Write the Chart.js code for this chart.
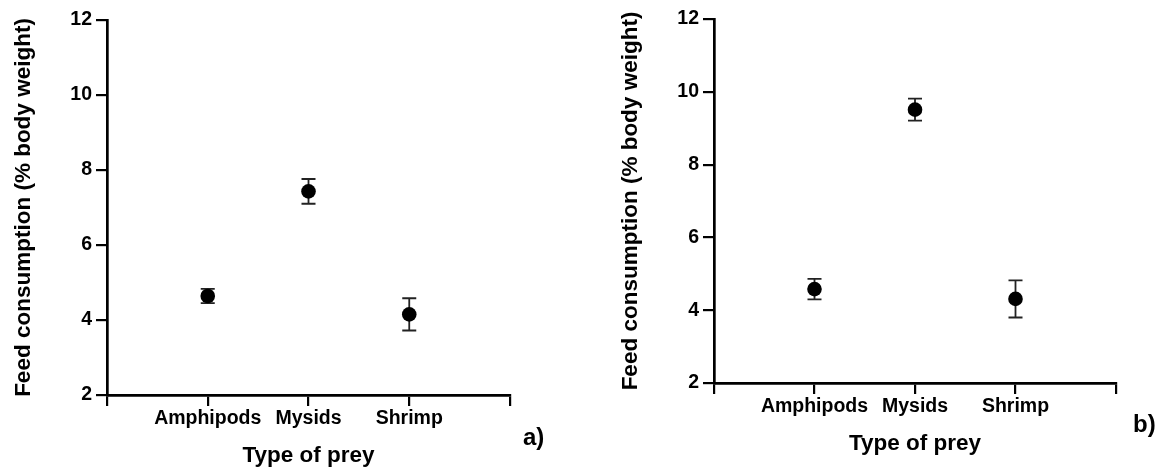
<!DOCTYPE html>
<html>
<head>
<meta charset="utf-8">
<script src="https://cdn.jsdelivr.net/npm/chart.js@4.4.0/dist/chart.umd.min.js"></script>
<style>
  body { margin: 0; background: #fff; width: 1161px; height: 470px; position: relative; overflow: hidden; font-family: "Liberation Sans", Arial, sans-serif; }
  .panel { position: absolute; top: 0; height: 470px; }
  .tag { position: absolute; font-weight: bold; font-size: 24px; line-height: 24px; color: #000; }
</style>
</head>
<body>
<div class="panel" style="left:0;width:580px"><canvas id="chartA" width="580" height="470"></canvas></div>
<div class="panel" style="left:580px;width:581px"><canvas id="chartB" width="581" height="470"></canvas></div>
<div class="tag" style="left:523px;top:425px">a)</div>
<div class="tag" style="left:1133px;top:412px">b)</div>
<script>
const preyTypes = ['Amphipods', 'Mysids', 'Shrimp'];
const yTicks = [2, 4, 6, 8, 10, 12];

// panel a
const meansA = [4.64, 7.43, 4.15];
const errA = [0.19, 0.33, 0.43];
// panel b
const meansB = [4.58, 9.51, 4.31];
const errB = [0.28, 0.30, 0.51];

Chart.defaults.font.family = '"Liberation Sans", Arial, sans-serif';
Chart.defaults.color = '#000';

// vertical bars with caps, drawn under the points
const errorBars = {
  id: 'errorBars',
  beforeDatasetsDraw(chart, args, opts) {
    const { ctx, scales: { x, y } } = chart;
    const errs = opts.errors || [];
    ctx.save();
    ctx.strokeStyle = '#222';
    ctx.lineWidth = 1.8;
    chart.data.datasets[0].data.forEach((pt, i) => {
      const px = x.getPixelForValue(pt.x);
      const top = y.getPixelForValue(pt.y + errs[i]);
      const bot = y.getPixelForValue(pt.y - errs[i]);
      ctx.beginPath();
      ctx.moveTo(px, top); ctx.lineTo(px, bot);
      ctx.moveTo(px - 7, top); ctx.lineTo(px + 7, top);
      ctx.moveTo(px - 7, bot); ctx.lineTo(px + 7, bot);
      ctx.stroke();
    });
    ctx.restore();
  }
};

function makeChart(id, means, errs, padding) {
  const ctx = document.getElementById(id).getContext('2d');
  return new Chart(ctx, {
    type: 'scatter',
    data: {
      datasets: [{
        data: means.map((m, i) => ({ x: i + 1, y: m })),
        pointRadius: 7.3,
        pointBackgroundColor: '#000',
        pointBorderColor: '#000',
        pointBorderWidth: 0
      }]
    },
    options: {
      responsive: false,
      animation: false,
      layout: { padding },
      plugins: {
        legend: { display: false },
        tooltip: { enabled: false },
        errorBars: { errors: errs }
      },
      scales: {
        x: {
          type: 'linear',
          min: 0,
          max: 4,
          afterFit: (s) => { s.height = 75; },
          border: { color: '#000', width: 2.7 },
          grid: { drawOnChartArea: false, drawTicks: true, tickLength: 11, color: '#000', lineWidth: 2.2 },
          ticks: {
            stepSize: 1,
            autoSkip: false,
            maxRotation: 0,
            padding: 1,
            font: { size: 19.5, weight: 'bold' },
            callback: (v) => preyTypes[v - 1] || ''
          },
          title: {
            display: true,
            text: 'Type of prey',
            font: { size: 22.5, weight: 'bold' },
            padding: { top: 0, bottom: 1 }
          }
        },
        y: {
          min: 2,
          max: 12,
          afterFit: (s) => { s.width = 107; },
          afterBuildTicks: (s) => { s.ticks = yTicks.map(v => ({ value: v })); },
          border: { color: '#000', width: 2.7 },
          grid: { drawOnChartArea: false, drawTicks: true, tickLength: 11, color: '#000', lineWidth: 2.2 },
          ticks: {
            padding: 4,
            font: { size: 19.5, weight: 'bold' }
          },
          title: {
            display: true,
            text: 'Feed consumption (% body weight)',
            font: { size: 22.5, weight: 'bold' },
            padding: { top: 10, bottom: 0 }
          }
        }
      }
    },
    plugins: [errorBars]
  });
}

makeChart('chartA', meansA, errA, { left: 0, top: 20, right: 70, bottom: 0 });
makeChart('chartB', meansB, errB, { left: 27, top: 19, right: 45, bottom: 12 });
</script>
</body>
</html>
